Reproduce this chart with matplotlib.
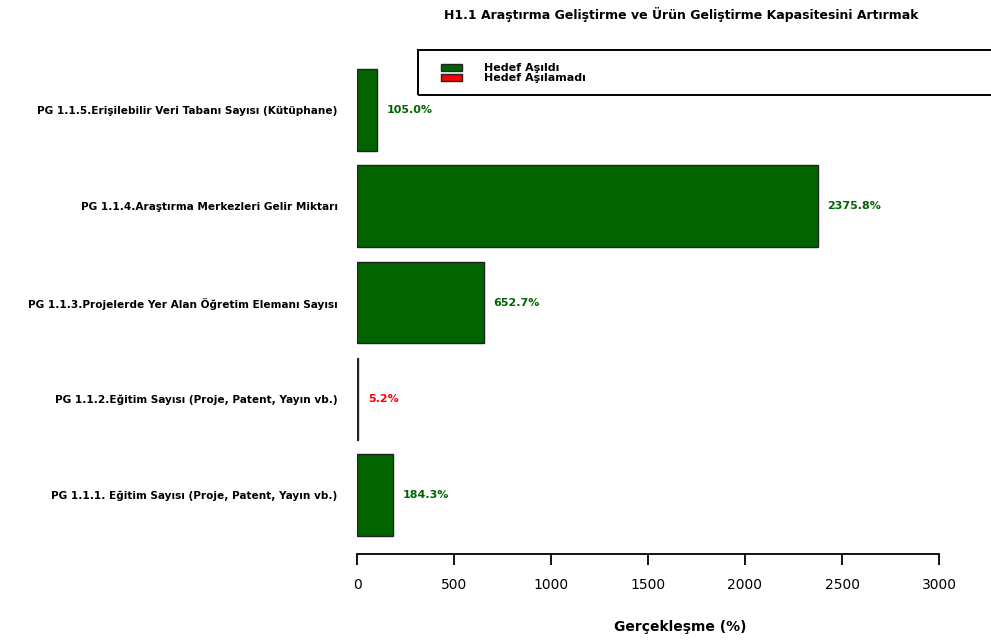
import matplotlib
matplotlib.use("Agg")
import matplotlib.pyplot as plt
from matplotlib.patches import Patch, Rectangle

plt.rcParams['font.family'] = ['DejaVu Sans']

categories = [
    "PG 1.1.1. Eğitim Sayısı (Proje, Patent, Yayın vb.)",
    "PG 1.1.2.Eğitim Sayısı (Proje, Patent, Yayın vb.)",
    "PG 1.1.3.Projelerde Yer Alan Öğretim Elemanı Sayısı",
    "PG 1.1.4.Araştırma Merkezleri Gelir Miktarı",
    "PG 1.1.5.Erişilebilir Veri Tabanı Sayısı (Kütüphane)",
]
values = [184.3, 5.2, 652.7, 2375.8, 105.0]
achieved = [True, False, True, True, True]
xticks = [0, 500, 1000, 1500, 2000, 2500, 3000]
title = "H1.1 Araştırma Geliştirme ve Ürün Geliştirme Kapasitesini Artırmak"
legend_labels = ["Hedef Aşıldı", "Hedef Aşılamadı"]

green = "#006400"
red = "#ff0000"

fig = plt.figure(figsize=(9.91, 6.43), dpi=100)
ax = fig.add_axes([357/991, 1 - 543/643, 582/991, (543 - 62)/643])

colors = [green if a else red for a in achieved]
ypos = list(range(len(categories)))
ax.barh(ypos, values, height=0.85, color=colors, edgecolor="#222222", linewidth=1.0)

for y, v, c in zip(ypos, values, colors):
    ax.text(v + 50, y, f"{v:.1f}%", va="center", ha="left", fontsize=8,
            fontweight="bold", color=c)

ax.set_xlim(0, 3000)
ax.set_ylim(-0.5, 4.5)
ax.set_yticks(ypos)
ax.set_yticklabels(categories, fontsize=7.6, fontweight="bold")
ax.tick_params(axis='y', length=0, pad=14)
ax.set_xticks(xticks)
ax.set_xticklabels([str(t) for t in xticks], fontsize=10.5)
ax.tick_params(axis='x', length=8, width=1.3, pad=9)
for s in ["top", "right", "left"]:
    ax.spines[s].set_visible(False)
ax.spines["bottom"].set_position(("outward", 8))
ax.spines["bottom"].set_linewidth(1.3)

fig.text(680/991, 1 - 627/643, "Gerçekleşme (%)", ha="center", va="center",
         fontsize=10, fontweight="bold")

fig.text(681/991, 1 - 15/643, title, ha="center", va="center", fontsize=9.0,
         fontweight="bold")

# legend frame (extends past the right edge, as in the reference)
fig.patches.append(Rectangle((418/991, 1 - 95/643), 700/991, 45/643,
                             transform=fig.transFigure, fill=False,
                             edgecolor="black", linewidth=1.4))
handles = [Patch(facecolor=green, edgecolor="#222222"),
           Patch(facecolor=red, edgecolor="#222222")]
leg = fig.legend(handles, legend_labels, loc="upper left",
                 bbox_to_anchor=(441/991, 1 - 63/643),
                 frameon=False, prop={'weight': 'bold', 'size': 8},
                 handlelength=1.9, handleheight=0.6, handletextpad=2.0,
                 labelspacing=0.0, borderpad=0, borderaxespad=0)

fig.savefig("out.png", dpi=100)
